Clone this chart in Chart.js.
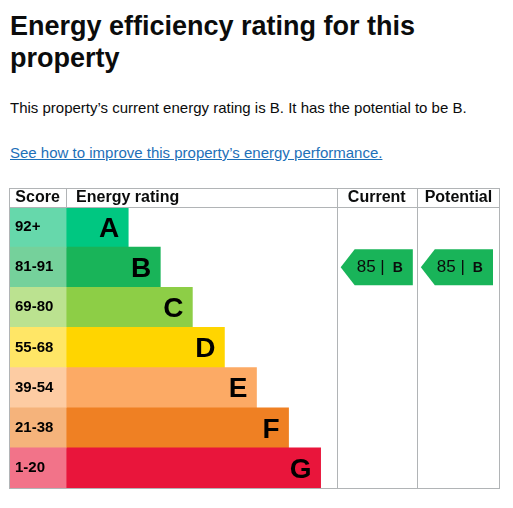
<!DOCTYPE html>
<html><head><meta charset="utf-8">
<script src="https://cdn.jsdelivr.net/npm/chart.js@4"></script>
<style>
body{margin:0;font-family:"Liberation Sans",Arial,sans-serif;color:#0b0c0c;background:#fff;width:513px;height:508px;overflow:hidden;position:relative}
h1{position:absolute;left:10px;top:10px;margin:0;font-size:27px;line-height:32px;font-weight:bold;width:480px}
p{position:absolute;left:10px;top:99px;margin:0;font-size:15px}
a{position:absolute;left:10px;top:144px;font-size:15px;color:#1d70b8;text-decoration:underline}
#wrap{position:absolute;left:0;top:180px;width:513px;height:328px}
</style></head><body>
<h1>Energy efficiency rating for this property</h1>
<p>This property’s current energy rating is B. It has the potential to be B.</p>
<a href="#">See how to improve this property’s energy performance.</a>
<div id="wrap"><canvas id="epc"></canvas></div>
<script>
const bands = ['A', 'B', 'C', 'D', 'E', 'F', 'G'];
const scoreRanges = ['92+', '81-91', '69-80', '55-68', '39-54', '21-38', '1-20'];
const bandEnds = [119, 151, 183, 215, 247, 279, 311];
const bandColors = ['#00c781', '#19b459', '#8dce46', '#ffd500', '#fcaa65', '#ef8023', '#e9153b'];
const scoreColors = ['#66d8ab', '#75d19b', '#bbe290', '#ffe666', '#fdcca3', '#f5b37b', '#f27389'];
const currentScore = 85, currentBand = 'B';
const potentialScore = 85, potentialBand = 'B';
const scoreColEnd = 57, ratingColEnd = 327, currentColEnd = 407, tableEnd = 490;

const tablePlugin = {
  id: 'table',
  afterDatasetsDraw(chart) {
    const {ctx, chartArea: a, scales: {x, y}} = chart;
    const meta = chart.getDatasetMeta(1);
    ctx.save();
    // band letters
    ctx.fillStyle = '#000';
    ctx.font = 'bold 28px "Liberation Sans", Arial';
    ctx.textAlign = 'right'; ctx.textBaseline = 'middle';
    meta.data.forEach((bar, i) => ctx.fillText(bands[i], bar.x - 9, bar.y + 2));
    // score labels
    ctx.font = 'bold 15px "Liberation Sans", Arial';
    ctx.textAlign = 'left';
    scoreRanges.forEach((s, i) => ctx.fillText(s, x.getPixelForValue(0) + 6, y.getPixelForValue(i)));
    // grid
    ctx.strokeStyle = '#b1b4b6'; ctx.lineWidth = 1;
    const top = a.top - 19;
    ctx.strokeRect(a.left + 0.5, top + 0.5, a.right - a.left - 1, a.bottom - top);
    [scoreColEnd, ratingColEnd, currentColEnd].forEach(v => {
      const px = Math.round(x.getPixelForValue(v)) + 0.5;
      ctx.beginPath(); ctx.moveTo(px, top); ctx.lineTo(px, v === scoreColEnd ? a.top : a.bottom); ctx.stroke();
    });
    ctx.beginPath(); ctx.moveTo(a.left, a.top + 0.5); ctx.lineTo(a.right, a.top + 0.5); ctx.stroke();
    // headers
    ctx.fillStyle = '#0b0c0c';
    ctx.font = 'bold 16px "Liberation Sans", Arial';
    ctx.textAlign = 'center';
    const hy = top + 10;
    ctx.fillText('Score', x.getPixelForValue(scoreColEnd / 2), hy);
    ctx.textAlign = 'left';
    ctx.fillText('Energy rating', x.getPixelForValue(scoreColEnd) + 10, hy);
    ctx.textAlign = 'center';
    ctx.fillText('Current', x.getPixelForValue((ratingColEnd + currentColEnd) / 2), hy);
    ctx.fillText('Potential', x.getPixelForValue((currentColEnd + tableEnd) / 2), hy);
    // arrows
    const arrow = (x0, x1, band, score) => {
      const i = bands.indexOf(band);
      const cy = y.getPixelForValue(i), h = 40;
      const l = x.getPixelForValue(x0), r = x.getPixelForValue(x1);
      ctx.fillStyle = bandColors[i];
      ctx.beginPath();
      ctx.moveTo(l, cy); ctx.lineTo(l + 14, cy - h / 2 + 2); ctx.lineTo(r, cy - h / 2 + 2);
      ctx.lineTo(r, cy + h / 2 - 2); ctx.lineTo(l + 14, cy + h / 2 - 2); ctx.closePath(); ctx.fill();
      ctx.fillStyle = '#0b0c0c';
      ctx.textAlign = 'left';
      ctx.font = '17px "Liberation Sans", Arial';
      ctx.fillText(score + ' |', l + 16, cy);
      ctx.font = 'bold 14px "Liberation Sans", Arial';
      ctx.fillText(band, l + 52, cy + 1);
    };
    arrow(ratingColEnd + 4, currentColEnd - 4, currentBand, currentScore);
    arrow(currentColEnd + 4, tableEnd - 7, potentialBand, potentialScore);
    ctx.restore();
  }
};

new Chart(document.getElementById('epc'), {
  type: 'bar',
  data: {
    labels: bands,
    datasets: [
      {data: bands.map(() => [0, scoreColEnd]), backgroundColor: scoreColors},
      {data: bandEnds.map(e => [scoreColEnd, e]), backgroundColor: bandColors}
    ]
  },
  options: {
    indexAxis: 'y', responsive: true, maintainAspectRatio: false, animation: false,
    layout: {padding: {left: 9, right: 13, top: 27, bottom: 20}},
    datasets: {bar: {barPercentage: 1, categoryPercentage: 1, grouped: false}},
    scales: {
      x: {display: false, min: 0, max: tableEnd},
      y: {display: false, offset: true}
    },
    plugins: {legend: {display: false}, tooltip: {enabled: false}}
  },
  plugins: [tablePlugin]
});
</script>
</body></html>
